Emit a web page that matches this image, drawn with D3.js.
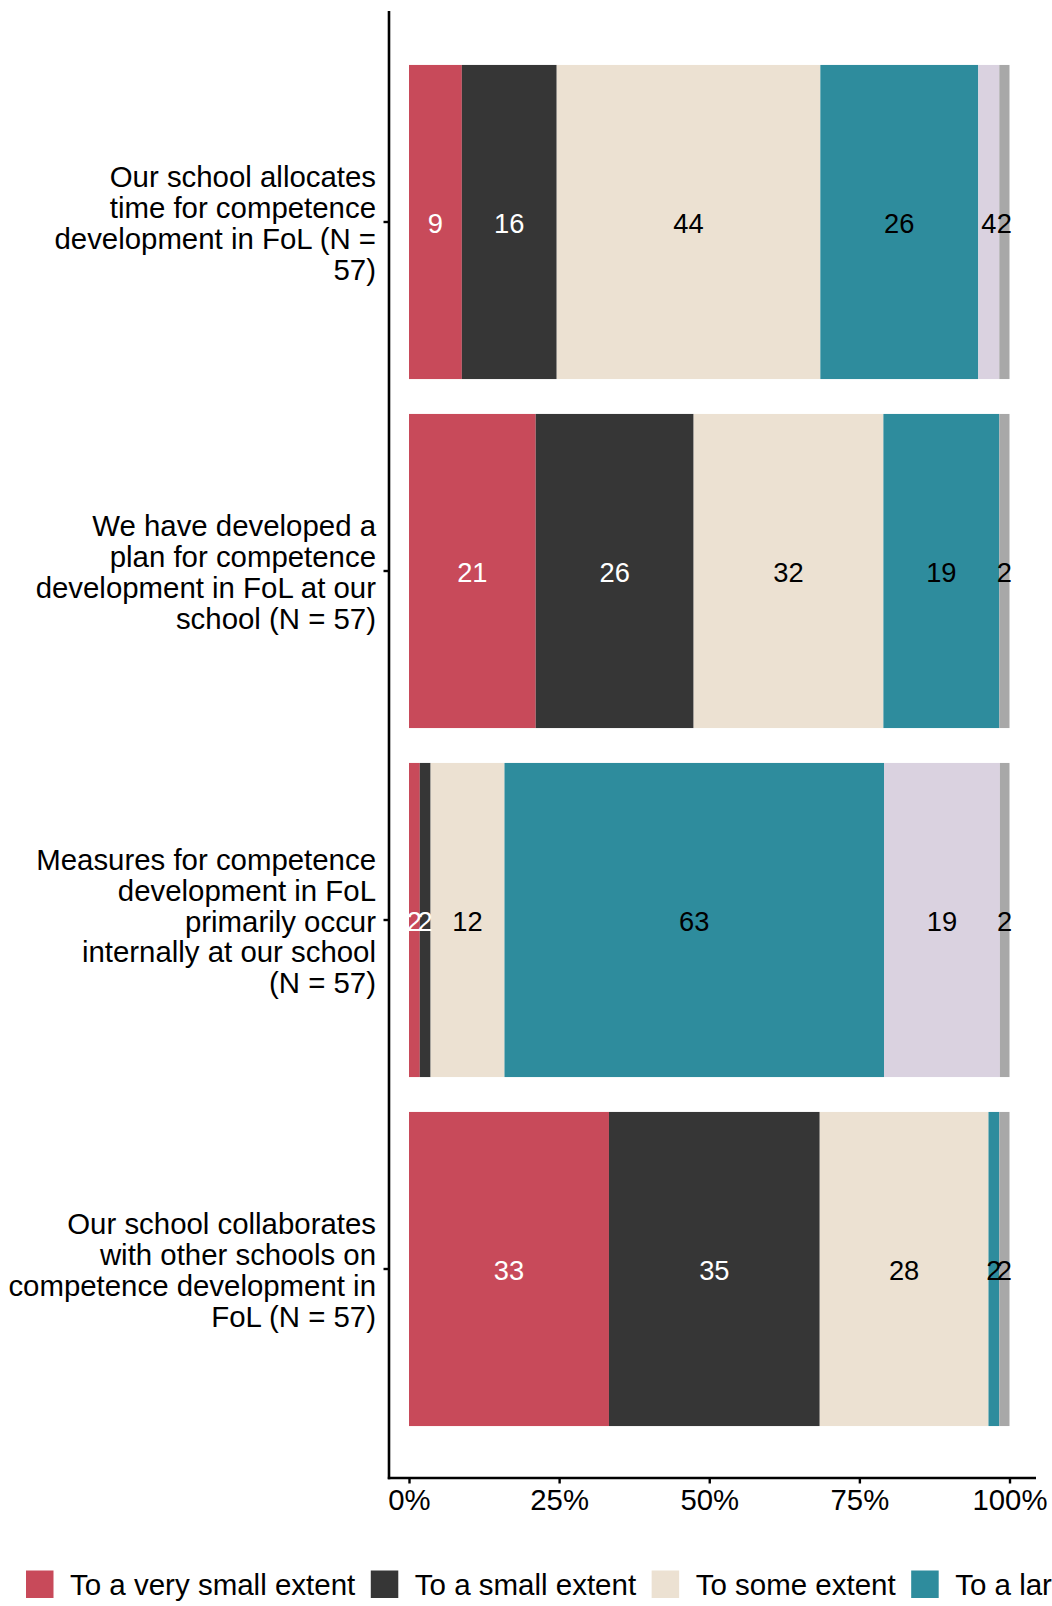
<!DOCTYPE html>
<html>
<head>
<meta charset="utf-8">
<script src="https://cdn.jsdelivr.net/npm/d3@7"></script>
<style>
  html, body { margin: 0; padding: 0; background: #ffffff; }
  svg { display: block; font-family: "Liberation Sans", Arial, Helvetica, sans-serif; }
</style>
</head>
<body>
<svg id="chart" width="1052" height="1606"></svg>
<script>
// ---- data (percent of respondents) ----
const categories = [
  ["Our school allocates", "time for competence", "development in FoL (N =", "57)"],
  ["We have developed a", "plan for competence", "development in FoL at our", "school (N = 57)"],
  ["Measures for competence", "development in FoL", "primarily occur", "internally at our school", "(N = 57)"],
  ["Our school collaborates", "with other schools on", "competence development in", "FoL (N = 57)"]
];
const seriesNames = ["To a very small extent", "To a small extent", "To some extent",
                     "To a large extent", "To a very large extent", "Don't know"];
const veryLowValues  = [8.8, 21.1, 1.8, 33.3];
const lowValues      = [15.8, 26.3, 1.8, 35.1];
const someValues     = [43.9, 31.6, 12.3, 28.1];
const largeValues    = [26.3, 19.3, 63.2, 1.8];
const veryLargeValues= [3.5, 0, 19.3, 0];
const dontKnowValues = [1.7, 1.7, 1.6, 1.7];
const tickValues = [0, 25, 50, 75, 100];
const tickLabels = ["0%", "25%", "50%", "75%", "100%"];

// ---- styles ----
const colors = ["#C84A5A", "#363636", "#ECE1D2", "#2E8C9D", "#DAD2E0", "#A8A8A8"];
const labelColors = ["#ffffff", "#ffffff", "#000000", "#000000", "#000000", "#000000"];

const seriesValues = [veryLowValues, lowValues, someValues, largeValues, veryLargeValues, dontKnowValues];
const rows = categories.map((c, i) => {
  const o = { key: i };
  seriesNames.forEach((s, j) => { o[s] = seriesValues[j][i]; });
  return o;
});
const stacked = d3.stack().keys(seriesNames)(rows);

const svg = d3.select("#chart");
const panelLeft = 389, panelRight = 1036, panelTop = 12.6, panelBottom = 1478.4;

const x = d3.scaleLinear().domain([0, 100]).range([409, 1009.5]);
const y = d3.scaleBand().domain(d3.range(categories.length))
  .range([panelTop, panelBottom]).paddingInner(0.1).paddingOuter(0.15);

// bars
const layers = svg.append("g").selectAll("g").data(stacked).join("g")
  .attr("fill", (d, i) => colors[i]);
layers.selectAll("rect").data(d => d).join("rect")
  .attr("x", d => x(d[0]))
  .attr("y", (d, i) => y(i))
  .attr("width", d => Math.max(0, x(d[1]) - x(d[0])))
  .attr("height", y.bandwidth());

// value labels
stacked.forEach((layer, si) => {
  svg.append("g").selectAll("text").data(layer.filter(d => d[1] - d[0] > 0)).join("text")
    .attr("x", d => x((d[0] + d[1]) / 2))
    .attr("y", d => y(d.data.key) + y.bandwidth() / 2 + 1)
    .attr("dy", "0.36em")
    .attr("text-anchor", "middle")
    .attr("font-size", 27.3)
    .attr("fill", labelColors[si])
    .text(d => Math.round(d[1] - d[0]));
});

// x axis
const xAxis = d3.axisBottom(x).tickValues(tickValues)
  .tickFormat((d, i) => tickLabels[i]).tickSize(5.5).tickPadding(4);
const gx = svg.append("g").attr("transform", `translate(0,${panelBottom - 0.4})`).call(xAxis);
gx.select(".domain").remove();
gx.selectAll(".tick line").attr("stroke", "#000").attr("stroke-width", 2.4);
gx.selectAll(".tick text").attr("font-size", 29.3).attr("fill", "#000")
  .attr("font-family", "Liberation Sans, Arial, sans-serif")
  .attr("dy", "0.78em");
svg.append("line").attr("x1", panelLeft - 1.2).attr("x2", panelRight)
  .attr("y1", panelBottom - 0.4).attr("y2", panelBottom - 0.4)
  .attr("stroke", "#000").attr("stroke-width", 2.6);

// y axis
const yAxis = d3.axisLeft(y).tickSize(5.5).tickFormat("");
const gy = svg.append("g").attr("transform", `translate(${panelLeft},0)`).call(yAxis);
gy.select(".domain").remove();
gy.selectAll(".tick line").attr("stroke", "#000").attr("stroke-width", 2.4);
svg.append("line").attr("x1", panelLeft).attr("x2", panelLeft)
  .attr("y1", 11).attr("y2", panelBottom + 0.9)
  .attr("stroke", "#000").attr("stroke-width", 2.6);

// category labels (multi-line, right aligned)
const lh = 30.9;
categories.forEach((lines, i) => {
  const cy = y(i) + y.bandwidth() / 2;
  const first = cy - (lines.length - 1) * lh / 2 + 11.5;
  const t = svg.append("text").attr("text-anchor", "end").attr("font-size", 29.4).attr("fill", "#000");
  lines.forEach((ln, k) => {
    t.append("tspan").attr("x", 376).attr("y", first + k * lh).text(ln);
  });
});

// legend (overflows right edge as in the original)
const legend = svg.append("g");
let lx = 26;
const keySize = 27.5, legendTop = 1570.5;
seriesNames.forEach((s, i) => {
  legend.append("rect").attr("x", lx).attr("y", legendTop)
    .attr("width", keySize).attr("height", keySize).attr("fill", colors[i]);
  const tx = legend.append("text").attr("x", lx + keySize + 16.5)
    .attr("y", legendTop + keySize / 2 + 0.5).attr("dy", "0.36em")
    .attr("font-size", 29.5).attr("fill", "#000").text(s);
  const w = tx.node().getComputedTextLength();
  lx = lx + keySize + 16.5 + w + 15.5;
});
</script>
</body>
</html>
